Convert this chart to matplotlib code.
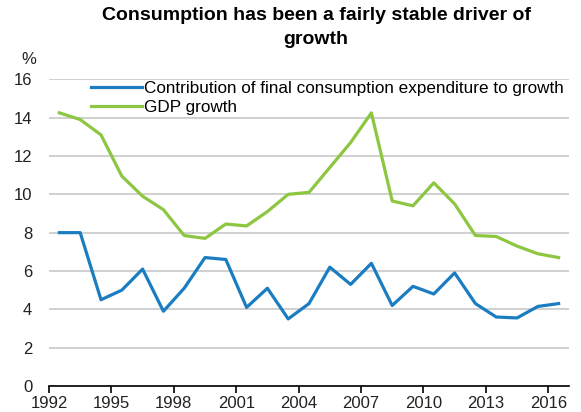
import matplotlib
matplotlib.use('Agg')
import matplotlib.pyplot as plt
from matplotlib.ticker import MultipleLocator, FixedLocator

plt.rcParams['font.family'] = ['Liberation Sans', 'DejaVu Sans']

# данные с графика
years = list(range(1992, 2017))
consumption = [8.0, 8.0, 4.5, 5.0, 6.1, 3.9, 5.1, 6.7, 6.6, 4.1, 5.1, 3.5, 4.3,
               6.2, 5.3, 6.4, 4.2, 5.2, 4.8, 5.9, 4.3, 3.6, 3.55, 4.15, 4.3]
gdp = [14.25, 13.9, 13.1, 10.95, 9.9, 9.2, 7.85, 7.7, 8.45, 8.35, 9.1, 10.0, 10.1,
       11.4, 12.7, 14.25, 9.65, 9.4, 10.6, 9.5, 7.85, 7.8, 7.3, 6.9, 6.7]
tick_years = [1992, 1995, 1998, 2001, 2004, 2007, 2010, 2013, 2016]

blue = '#1B7DC1'
green = '#8DC641'

fig = plt.figure(figsize=(5.81, 4.12), dpi=100)
ax = fig.add_axes([49 / 581, 26 / 412, 520 / 581, 306.7 / 412])

# точки в центре категории (год + 0.5)
xs = [y + 0.5 for y in years]
ax.plot(xs, consumption, color=blue, linewidth=2.3,
        label='Contribution of final consumption expenditure to growth')
ax.plot(xs, gdp, color=green, linewidth=2.3, label='GDP growth')

ax.set_xlim(1992, 2017)
ax.set_ylim(0, 16)
ax.yaxis.set_major_locator(MultipleLocator(2))
ax.xaxis.set_major_locator(FixedLocator(tick_years))
ax.grid(axis='y', color='#c8c8c8', linewidth=1.2)
ax.set_axisbelow(True)

for s in ['left', 'right', 'top']:
    ax.spines[s].set_visible(False)
ax.spines['bottom'].set_color('black')
ax.spines['bottom'].set_linewidth(1.2)

ax.tick_params(axis='y', length=0, pad=12, labelsize=12, colors='#222222')
ax.tick_params(axis='x', direction='out', length=5, width=1.2, pad=2, labelsize=12,
               colors='black', labelcolor='#222222')

fig.text(36 / 581, 1 - 60 / 412, '%', fontsize=12, ha='right', va='center', color='#222222')

fig.text(316 / 581, 1 - 16 / 412, 'Consumption has been a fairly stable driver of',
         fontsize=14, fontweight='bold', ha='center', va='center')
fig.text(316 / 581, 1 - 39 / 412, 'growth', fontsize=14, fontweight='bold', ha='center', va='center')

ax.legend(loc='upper left', bbox_to_anchor=(91 / 581, 1 - 81 / 412),
          bbox_transform=fig.transFigure, frameon=False, fontsize=12.3,
          handlelength=3.0, handletextpad=0.08, labelspacing=0.25,
          borderpad=0, borderaxespad=0)

fig.savefig('out.png', dpi=100)
